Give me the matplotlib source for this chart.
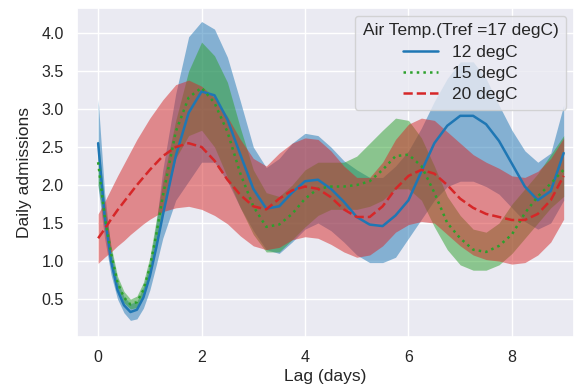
import matplotlib
matplotlib.use("Agg")
import matplotlib.pyplot as plt
import seaborn as sns

# lag grid (days); finer steps over the first 1.25 days where the curves drop sharply
lag = [0, 0.125, 0.25, 0.375, 0.5, 0.625, 0.75, 0.875, 1.0, 1.125, 1.25,
       1.5, 1.75, 2.0, 2.25, 2.5, 2.75, 3.0, 3.25, 3.5, 3.75, 4.0, 4.25, 4.5, 4.75,
       5.0, 5.25, 5.5, 5.75, 6.0, 6.25, 6.5, 6.75, 7.0, 7.25, 7.5, 7.75, 8.0, 8.25,
       8.5, 8.75, 9.0]

# 12 degC
rr_12 = [2.55, 1.60, 1.00, 0.62, 0.42, 0.33, 0.36, 0.52, 0.80, 1.18, 1.60,
         2.38, 2.95, 3.23, 3.18, 2.86, 2.40, 1.95, 1.69, 1.72, 1.90, 2.05, 2.07, 1.95,
         1.78, 1.58, 1.48, 1.46, 1.60, 1.80, 2.18, 2.55, 2.78, 2.91, 2.91, 2.80, 2.58,
         2.28, 1.98, 1.80, 1.92, 2.42]
hi_12 = [3.13, 1.90, 1.15, 0.74, 0.53, 0.44, 0.47, 0.66, 0.98, 1.50, 2.20,
         3.20, 3.95, 4.15, 4.05, 3.68, 3.10, 2.50, 2.23, 2.35, 2.55, 2.68, 2.65, 2.50,
         2.32, 2.20, 2.10, 2.10, 2.25, 2.45, 2.75, 3.10, 3.40, 3.62, 3.62, 3.40, 3.05,
         2.72, 2.45, 2.30, 2.42, 3.05]
lo_12 = [1.97, 1.30, 0.82, 0.50, 0.32, 0.22, 0.24, 0.38, 0.62, 0.95, 1.30,
         1.80, 2.05, 2.30, 2.30, 2.05, 1.70, 1.40, 1.15, 1.10, 1.25, 1.42, 1.50, 1.40,
         1.25, 1.08, 0.98, 0.98, 1.05, 1.30, 1.55, 1.80, 1.98, 2.05, 2.05, 1.98, 1.88,
         1.70, 1.52, 1.42, 1.50, 1.80]

# 15 degC
rr_15 = [2.30, 1.60, 1.10, 0.72, 0.52, 0.43, 0.46, 0.62, 0.92, 1.35, 1.85,
         2.70, 3.15, 3.28, 3.08, 2.70, 2.15, 1.72, 1.45, 1.48, 1.62, 1.82, 1.95, 1.98,
         1.98, 2.00, 2.05, 2.20, 2.38, 2.40, 2.25, 1.90, 1.50, 1.30, 1.15, 1.12, 1.20,
         1.35, 1.63, 1.85, 2.02, 2.20]
hi_15 = [2.60, 1.75, 1.20, 0.80, 0.60, 0.50, 0.54, 0.72, 1.05, 1.55, 2.05,
         2.85, 3.50, 3.88, 3.70, 3.35, 2.75, 2.20, 1.90, 1.85, 2.00, 2.20, 2.30, 2.30,
         2.30, 2.38, 2.55, 2.72, 2.88, 2.85, 2.62, 2.25, 1.85, 1.60, 1.42, 1.38, 1.50,
         1.75, 1.95, 2.15, 2.40, 2.65]
lo_15 = [2.00, 1.45, 1.00, 0.64, 0.45, 0.37, 0.39, 0.54, 0.82, 1.20, 1.65,
         2.35, 2.65, 2.72, 2.50, 2.10, 1.70, 1.35, 1.12, 1.12, 1.28, 1.45, 1.60, 1.68,
         1.68, 1.68, 1.72, 1.80, 1.95, 1.95, 1.80, 1.45, 1.15, 0.95, 0.88, 0.88, 0.95,
         1.10, 1.30, 1.50, 1.70, 1.85]

# 20 degC
rr_20 = [1.30, 1.42, 1.55, 1.67, 1.78, 1.89, 2.00, 2.10, 2.20, 2.29, 2.38,
         2.50, 2.55, 2.50, 2.32, 2.07, 1.87, 1.72, 1.68, 1.82, 1.93, 1.98, 1.95, 1.84,
         1.68, 1.58, 1.58, 1.72, 1.95, 2.12, 2.20, 2.15, 2.00, 1.82, 1.70, 1.62, 1.58,
         1.54, 1.54, 1.62, 1.80, 2.12]
hi_20 = [1.62, 1.78, 1.95, 2.12, 2.28, 2.44, 2.60, 2.74, 2.88, 3.00, 3.12,
         3.32, 3.38, 3.30, 3.15, 2.90, 2.60, 2.35, 2.25, 2.42, 2.55, 2.62, 2.60, 2.45,
         2.25, 2.10, 2.10, 2.30, 2.60, 2.80, 2.88, 2.85, 2.70, 2.55, 2.40, 2.30, 2.22,
         2.12, 2.10, 2.18, 2.35, 2.62]
lo_20 = [0.97, 1.05, 1.12, 1.20, 1.27, 1.35, 1.42, 1.49, 1.55, 1.60, 1.65,
         1.70, 1.72, 1.68, 1.60, 1.49, 1.33, 1.20, 1.15, 1.18, 1.28, 1.32, 1.30, 1.22,
         1.12, 1.05, 1.08, 1.20, 1.38, 1.48, 1.52, 1.50, 1.35, 1.20, 1.08, 1.02, 1.00,
         0.96, 0.98, 1.08, 1.25, 1.55]

labels = ["12 degC", "15 degC", "20 degC"]
colors = ["tab:blue", "tab:green", "tab:red"]
styles = ["-", ":", "--"]

sns.set_theme(style="darkgrid")
plt.rcParams["font.family"] = ["Liberation Sans", "DejaVu Sans"]

fig = plt.figure(figsize=(5.74, 3.92), dpi=100)
ax = fig.add_axes([0.134, 0.14, 0.866, 0.84])

series = [(rr_12, lo_12, hi_12), (rr_15, lo_15, hi_15), (rr_20, lo_20, hi_20)]
for (rr, lo, hi), lab, col, ls in zip(series, labels, colors, styles):
    ax.fill_between(lag, lo, hi, color=col, alpha=0.5, linewidth=0)
    ax.plot(lag, rr, color=col, linestyle=ls, linewidth=1.8, label=lab)

ax.set_xlim(-0.41, 9.2)
ax.set_ylim(0.0, 4.33)
ax.set_xticks([0, 2, 4, 6, 8])
ax.set_yticks([0.5, 1.0, 1.5, 2.0, 2.5, 3.0, 3.5, 4.0])
ax.tick_params(labelsize=11.5)
ax.set_xlabel("Lag (days)", fontsize=12.5, labelpad=3)
ax.set_ylabel("Daily admissions", fontsize=12.5, labelpad=7)

leg = ax.legend(title="Air Temp.(Tref =17 degC)", loc="upper right",
                fontsize=12.5, title_fontsize=12.5, borderaxespad=0.45,
                labelspacing=0.35, borderpad=0.45)

fig.savefig("out.png", dpi=100)
